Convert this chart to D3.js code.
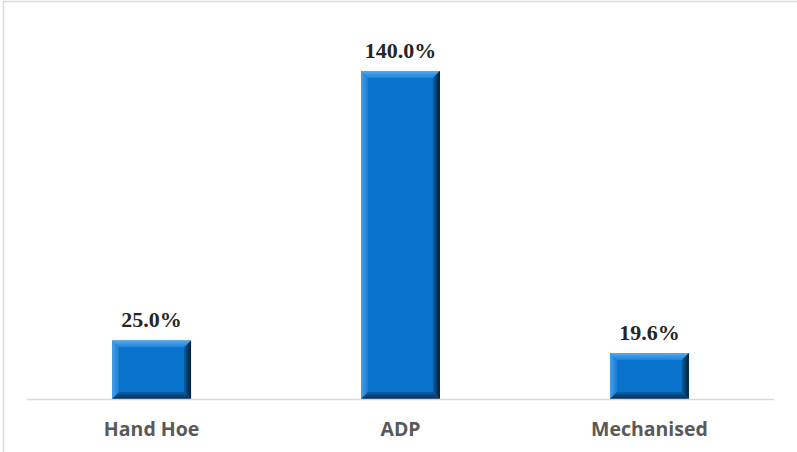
<!DOCTYPE html>
<html>
<head>
<meta charset="utf-8">
<script src="https://cdn.jsdelivr.net/npm/d3@7/dist/d3.min.js"></script>
<style>
  html, body { margin: 0; padding: 0; background: #fff; }
  svg { display: block; }
</style>
</head>
<body>
<svg id="chart" width="797" height="452"></svg>
<script>
// Share of cost by cultivation method
const categories = ["Hand Hoe", "ADP", "Mechanised"];
const values = [25.0, 140.0, 19.6];
const valueLabels = ["25.0%", "140.0%", "19.6%"];

const W = 797, H = 452;
const svg = d3.select("#chart");

// chart area frame
svg.append("line").attr("x1", 3.5).attr("x2", 3.5).attr("y1", 1).attr("y2", H)
  .attr("stroke", "#d9d9d9").attr("stroke-width", 1.5);
svg.append("line").attr("x1", 3).attr("x2", W).attr("y1", 1.5).attr("y2", 1.5)
  .attr("stroke", "#d9d9d9").attr("stroke-width", 1.5);

const margin = { left: 27, right: 23, top: 71, bottom: 53 };
const baseY = H - margin.bottom; // 399

const x = d3.scaleBand()
  .domain(categories)
  .range([margin.left, W - margin.right])
  .paddingInner(0.683)
  .paddingOuter(0.342);

const y = d3.scaleLinear()
  .domain([0, 140])
  .range([baseY, margin.top]);

// bevel gradients
const defs = svg.append("defs");
function grad(id, x1, y1, x2, y2, stops) {
  const g = defs.append("linearGradient").attr("id", id)
    .attr("x1", x1).attr("y1", y1).attr("x2", x2).attr("y2", y2);
  stops.forEach(s => g.append("stop").attr("offset", s[0]).attr("stop-color", s[1]));
}
grad("bevTop", 0, 0, 0, 1, [[0, "#5aa9ec"], [1, "#1a82d8"]]);
grad("bevLeft", 0, 0, 1, 0, [[0, "#4a9ee6"], [1, "#167ed6"]]);
grad("bevRight", 0, 0, 1, 0, [[0, "#0a5fa6"], [0.6, "#07365f"], [1, "#041e36"]]);
grad("bevBottom", 0, 0, 0, 1, [[0, "#0a5fa6"], [0.6, "#074378"], [1, "#062c50"]]);

const bev = 7;
const bars = svg.append("g").selectAll("g")
  .data(categories.map((c, i) => ({ c, v: values[i], label: valueLabels[i] })))
  .join("g");

bars.each(function (d) {
  const g = d3.select(this);
  const x0 = x(d.c), x1 = x0 + x.bandwidth();
  const y0 = y(d.v), y1 = y(0);
  g.append("rect").attr("x", x0).attr("y", y0)
    .attr("width", x1 - x0).attr("height", y1 - y0).attr("fill", "#0872cc");
  const poly = (pts, fill) => g.append("polygon")
    .attr("points", pts.map(p => p.join(",")).join(" ")).attr("fill", fill);
  poly([[x0, y0], [x1, y0], [x1 - bev, y0 + bev], [x0 + bev, y0 + bev]], "url(#bevTop)");
  poly([[x0, y0], [x0 + bev, y0 + bev], [x0 + bev, y1 - bev], [x0, y1]], "url(#bevLeft)");
  poly([[x1, y0], [x1, y1], [x1 - bev, y1 - bev], [x1 - bev, y0 + bev]], "url(#bevRight)");
  poly([[x0, y1], [x0 + bev, y1 - bev], [x1 - bev, y1 - bev], [x1, y1]], "url(#bevBottom)");
});

// value labels
bars.append("text")
  .attr("x", d => x(d.c) + x.bandwidth() / 2)
  .attr("y", d => y(d.v) - 13)
  .attr("text-anchor", "middle")
  .attr("font-family", "'Liberation Serif', 'Times New Roman', serif")
  .attr("font-weight", "bold")
  .attr("font-size", 22)
  .attr("fill", "#262626")
  .text(d => d.label);

// baseline
svg.append("line")
  .attr("x1", margin.left).attr("x2", W - margin.right)
  .attr("y1", baseY + 0.5).attr("y2", baseY + 0.5)
  .attr("stroke", "#d9d9d9").attr("stroke-width", 1.5);

// category axis
const axis = svg.append("g")
  .attr("transform", `translate(0,${baseY})`)
  .call(d3.axisBottom(x).tickSize(0).tickPadding(37));
axis.select(".domain").remove();
axis.selectAll("text")
  .attr("font-family", "'Open Sans', sans-serif")
  .attr("font-weight", "bold")
  .attr("font-size", 19.5)
  .attr("fill", "#595959")
  .attr("dy", 0);
</script>
</body>
</html>
